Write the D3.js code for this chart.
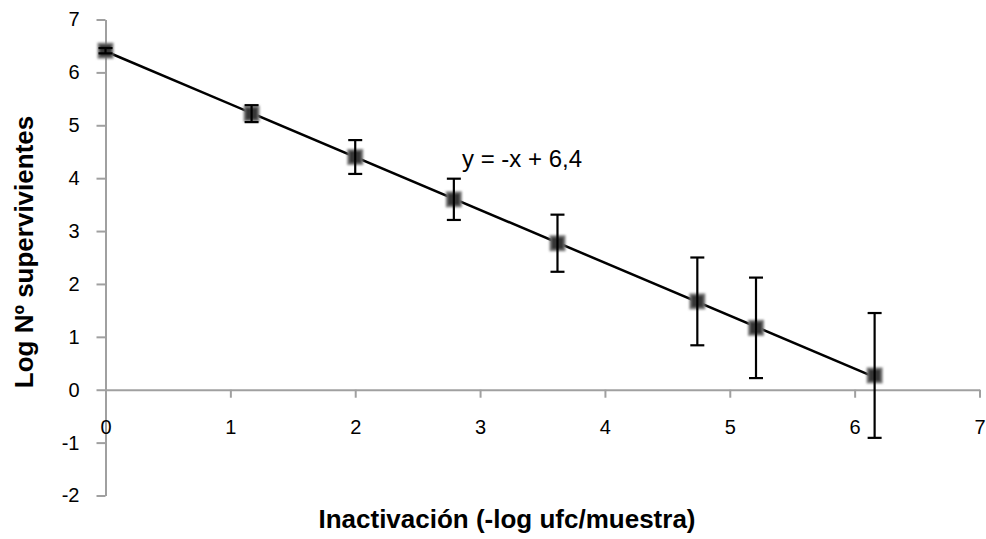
<!DOCTYPE html>
<html>
<head>
<meta charset="utf-8">
<script src="https://cdn.jsdelivr.net/npm/d3@7"></script>
<style>
  html, body { margin: 0; padding: 0; background: #fff; }
  svg { display: block; font-family: "Liberation Sans", Arial, sans-serif; }
</style>
</head>
<body>
<svg id="chart" width="986" height="539"></svg>
<script>
// Inactivation data: log reduction vs. log survivors, with standard deviations
const inactivation = [0, 1.17, 2.0, 2.79, 3.62, 4.74, 5.21, 6.16];
const logSurvivors = [6.41, 5.22, 4.40, 3.60, 2.77, 1.67, 1.17, 0.27];
const stdDev      = [0.05, 0.16, 0.32, 0.39, 0.54, 0.83, 0.95, 1.18];

// Linear fit shown on the chart
const fitSlope = -1;
const fitIntercept = 6.4;
const fitLabel = "y = -x + 6,4";

const xTicks = [0, 1, 2, 3, 4, 5, 6, 7];
const yTicks = [-2, -1, 0, 1, 2, 3, 4, 5, 6, 7];
const xTitle = "Inactivación (-log ufc/muestra)";
const yTitle = "Log Nº supervivientes";

const svg = d3.select("#chart");
const x = d3.scaleLinear().domain([0, 7]).range([105.5, 979.5]);
const y = d3.scaleLinear().domain([-2, 7]).range([495.5, 19.5]);

const axisColor = "#a0a0a0";
const plain = d => String(d);   // integers with a plain hyphen for negatives

// Y axis (left), ticks pointing outward
const yAxis = svg.append("g")
  .attr("transform", `translate(${x(0)},0)`)
  .call(d3.axisLeft(y).tickValues(yTicks).tickFormat(plain)
    .tickSizeInner(9).tickSizeOuter(0).tickPadding(17));
yAxis.select(".domain").attr("stroke", axisColor).attr("stroke-width", 2);
yAxis.selectAll(".tick line").attr("stroke", axisColor).attr("stroke-width", 2);
yAxis.selectAll(".tick text")
  .attr("font-size", 20).attr("fill", "#000")
  .attr("font-family", "Liberation Sans, Arial, sans-serif");

// X axis crossing at y = 0, ticks pointing down
const xAxis = svg.append("g")
  .attr("transform", `translate(0,${y(0)})`)
  .call(d3.axisBottom(x).tickValues(xTicks).tickFormat(plain)
    .tickSizeInner(8).tickSizeOuter(0).tickPadding(22));
xAxis.select(".domain").attr("stroke", axisColor).attr("stroke-width", 2);
xAxis.selectAll(".tick line").attr("stroke", axisColor).attr("stroke-width", 2);
xAxis.selectAll(".tick text")
  .attr("font-size", 20).attr("fill", "#000")
  .attr("font-family", "Liberation Sans, Arial, sans-serif");

// Soft edge for the square markers
const defs = svg.append("defs");
defs.append("filter").attr("id", "soft")
  .append("feGaussianBlur").attr("stdDeviation", 0.8);

// Trend line across the data range
const xMin = d3.min(inactivation), xMax = d3.max(inactivation);
svg.append("line")
  .attr("x1", x(xMin)).attr("y1", y(fitSlope * xMin + fitIntercept))
  .attr("x2", x(xMax)).attr("y2", y(fitSlope * xMax + fitIntercept))
  .attr("stroke", "#000").attr("stroke-width", 2.5);

const pts = inactivation.map((v, i) => ({ x: v, y: logSurvivors[i], e: stdDev[i] }));

// Markers
const mk = svg.append("g").attr("filter", "url(#soft)");
mk.selectAll("rect.outer").data(pts).enter().append("rect")
  .attr("class", "outer")
  .attr("x", d => x(d.x) - 8).attr("y", d => y(d.y) - 8)
  .attr("width", 16).attr("height", 16)
  .attr("fill", "#7a7a7a");
mk.selectAll("rect.inner").data(pts).enter().append("rect")
  .attr("class", "inner")
  .attr("x", d => x(d.x) - 6).attr("y", d => y(d.y) - 6)
  .attr("width", 12).attr("height", 12)
  .attr("fill", "#353535");

// Error bars
const eb = svg.append("g").attr("stroke", "#000").attr("stroke-width", 2.2);
eb.selectAll("line.v").data(pts).enter().append("line")
  .attr("x1", d => x(d.x)).attr("x2", d => x(d.x))
  .attr("y1", d => y(d.y + d.e)).attr("y2", d => y(d.y - d.e));
eb.selectAll("line.t").data(pts).enter().append("line")
  .attr("x1", d => x(d.x) - 7).attr("x2", d => x(d.x) + 7)
  .attr("y1", d => y(d.y + d.e)).attr("y2", d => y(d.y + d.e));
eb.selectAll("line.b").data(pts).enter().append("line")
  .attr("x1", d => x(d.x) - 7).attr("x2", d => x(d.x) + 7)
  .attr("y1", d => y(d.y - d.e)).attr("y2", d => y(d.y - d.e));

// Equation label
svg.append("text")
  .attr("x", 462).attr("y", 167)
  .attr("font-size", 24).attr("fill", "#000")
  .text(fitLabel);

// Axis titles
svg.append("text")
  .attr("x", 507).attr("y", 528)
  .attr("text-anchor", "middle")
  .attr("font-size", 26).attr("font-weight", "bold").attr("fill", "#000")
  .text(xTitle);

svg.append("text")
  .attr("transform", `translate(33,252) rotate(-90)`)
  .attr("text-anchor", "middle")
  .attr("font-size", 26).attr("font-weight", "bold").attr("fill", "#000")
  .text(yTitle);
</script>
</body>
</html>
